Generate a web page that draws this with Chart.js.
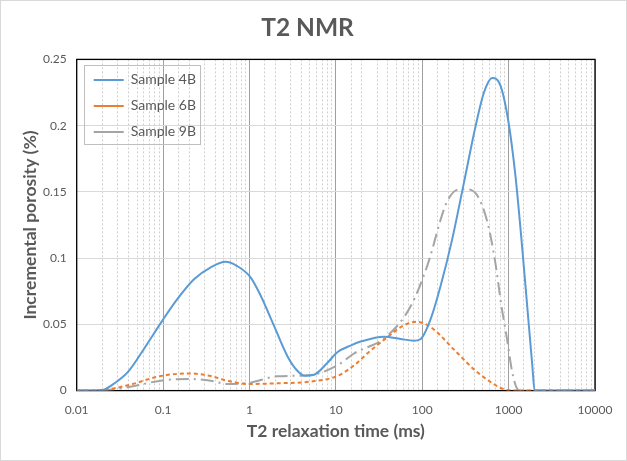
<!DOCTYPE html>
<html>
<head>
<meta charset="utf-8">
<script src="https://cdn.jsdelivr.net/npm/chart.js@4/dist/chart.umd.min.js"></script>
<style>
  html, body { margin: 0; padding: 0; background: #fff; }
  #wrap { width: 625px; height: 459px; border: 1px solid #d9d9d9; position: relative; }
  canvas { display: block; }
</style>
</head>
<body>
<div id="wrap"><canvas id="c" width="625" height="459"></canvas></div>
<script>
// ---- Data ----
const xTickLabels = ["0.01", "0.1", "1", "10", "100", "1000", "10000"];
const yTickLabels = ["0", "0.05", "0.1", "0.15", "0.2", "0.25"];
const seriesNames = ["Sample 4B", "Sample 6B", "Sample 9B"];

const t2_4B = [0.01, 0.02, 0.025, 0.039, 0.06, 0.098, 0.146, 0.228, 0.356, 0.53, 0.72, 1.03, 1.35, 1.92, 2.75, 3.58, 4.4, 5.6, 8.0, 10.4, 14.8, 19.4, 36, 56, 80, 96, 125, 163, 220, 304, 415, 518, 646, 807, 1000, 1200, 1440, 1640, 1880, 2000, 3000, 10000];
const por_4B = [0, 0.0005, 0.0038, 0.0139, 0.0314, 0.0528, 0.069, 0.084, 0.093, 0.0972, 0.094, 0.0855, 0.0716, 0.049, 0.026, 0.015, 0.0112, 0.012, 0.021, 0.029, 0.034, 0.037, 0.0407, 0.039, 0.0377, 0.039, 0.054, 0.079, 0.113, 0.157, 0.1997, 0.225, 0.236, 0.23, 0.202, 0.162, 0.107, 0.064, 0.019, 0, 0, 0];

const t2_6B = [0.01, 0.02, 0.039, 0.094, 0.2, 0.356, 0.55, 0.98, 2.1, 5.1, 10.4, 16.2, 25, 39, 60, 85, 125, 233, 398, 672, 958, 1500, 10000];
const por_6B = [0, 0.0005, 0.004, 0.011, 0.013, 0.011, 0.0075, 0.005, 0.0055, 0.0068, 0.011, 0.019, 0.03, 0.040, 0.049, 0.052, 0.048, 0.031, 0.016, 0.005, 0.0005, 0, 0];

const t2_9B = [0.01, 0.02, 0.039, 0.094, 0.2, 0.356, 0.55, 0.98, 2.1, 5.1, 10.4, 16.2, 39, 74, 114, 192, 271, 333, 436, 569, 700, 826, 958, 1100, 1240, 1350, 10000];
const por_9B = [0, 0.0003, 0.0025, 0.0075, 0.0088, 0.0075, 0.005, 0.0058, 0.0108, 0.0118, 0.019, 0.028, 0.041, 0.064, 0.094, 0.142, 0.152, 0.152, 0.147, 0.127, 0.097, 0.064, 0.039, 0.014, 0.002, 0, 0];

const toPoints = (xs, ys) => xs.map((x, i) => ({ x: x, y: ys[i] }));

const FONT = "Lato, 'Open Sans', sans-serif";
const TEXT = "#595959";

const isDecade = v => Math.abs(Math.log10(v) - Math.round(Math.log10(v))) < 1e-9;

const framePlugin = {
  id: 'frame',
  beforeDatasetsDraw(chart) {
    const { ctx, chartArea: a } = chart;
    ctx.save();
    ctx.strokeStyle = '#000';
    ctx.lineWidth = 1.3;
    ctx.strokeRect(a.left, a.top, a.right - a.left, a.bottom - a.top);
    ctx.restore();
  }
};

// place the legend inside the plot area (top-left) and draw its frame
const legendPlace = {
  id: 'legendPlace',
  afterLayout(chart) {
    const lg = chart.legend, a = chart.chartArea;
    if (!lg) return;
    const w = lg.width, h = lg.height;
    lg.left = a.left + 5;
    lg.top = a.top + 1.5;
    lg.right = lg.left + w;
    lg.bottom = lg.top + h;
    if (lg.adjustHitBoxes) lg.adjustHitBoxes();
  },
  afterDraw(chart) {
    const a = chart.chartArea;
    const { ctx } = chart;
    ctx.save();
    ctx.strokeStyle = '#bfbfbf';
    ctx.lineWidth = 1;
    ctx.strokeRect(Math.round(a.left + 7) + 0.5, Math.round(a.top + 6) + 0.5, 116, 79);
    ctx.restore();
  }
};

new Chart(document.getElementById('c'), {
  type: 'line',
  data: {
    datasets: [
      { label: seriesNames[0], data: toPoints(t2_4B, por_4B), borderColor: '#5b9bd5', backgroundColor: '#5b9bd5', borderWidth: 2, pointRadius: 0, cubicInterpolationMode: 'monotone' },
      { label: seriesNames[1], data: toPoints(t2_6B, por_6B), borderColor: '#ed7d31', backgroundColor: '#ed7d31', borderWidth: 2, borderDash: [4, 3], pointRadius: 0, cubicInterpolationMode: 'monotone' },
      { label: seriesNames[2], data: toPoints(t2_9B, por_9B), borderColor: '#a5a5a5', backgroundColor: '#a5a5a5', borderWidth: 2, borderDash: [13, 5, 2, 5], pointRadius: 0, cubicInterpolationMode: 'monotone' }
    ]
  },
  options: {
    responsive: false,
    animation: false,
    layout: { padding: { left: 19, right: 31, top: 5, bottom: 18 } },
    plugins: {
      title: {
        display: true, text: 'T2 NMR', color: TEXT,
        font: { family: FONT, size: 24.5, weight: 'bold' },
        padding: { top: 7, bottom: 17 }
      },
      legend: {
        position: 'chartArea', align: 'start',
        labels: {
          usePointStyle: true, pointStyle: 'line', pointStyleWidth: 30,
          boxHeight: 13, padding: 12, color: TEXT,
          font: { family: FONT, size: 14 }
        }
      },
      tooltip: { enabled: false }
    },
    scales: {
      x: {
        type: 'logarithmic', min: 0.01, max: 10000,
        title: { display: true, text: 'T2 relaxation time (ms)', color: TEXT, font: { family: FONT, size: 17.5, weight: 'bold' }, padding: { top: -8, bottom: 0 } },
        ticks: {
          autoSkip: false, maxRotation: 0, color: TEXT, padding: 12,
          font: { family: FONT, size: 12 },
          callback: (v) => { const i = Math.round(Math.log10(v)) + 2; return isDecade(v) ? xTickLabels[i] : ''; }
        },
        grid: {
          color: ctx => (ctx.tick && isDecade(ctx.tick.value)) ? '#a0a0a0' : '#d0d0d0',
          lineWidth: 1, drawTicks: false
        },
        border: {
          display: false,
          dash: ctx => (ctx.tick && isDecade(ctx.tick.value)) ? [] : [2, 2]
        }
      },
      y: {
        min: 0, max: 0.25,
        title: { display: true, text: 'Incremental porosity (%)', color: TEXT, font: { family: FONT, size: 17.5, weight: 'bold' }, padding: { top: 0, bottom: -8 } },
        ticks: {
          stepSize: 0.05, color: TEXT, padding: 10,
          font: { family: FONT, size: 12 },
          callback: (v) => yTickLabels[Math.round(v / 0.05)]
        },
        grid: { color: '#d9d9d9', drawTicks: false },
        border: { display: false }
      }
    }
  },
  plugins: [framePlugin, legendPlace]
});
</script>
</body>
</html>
